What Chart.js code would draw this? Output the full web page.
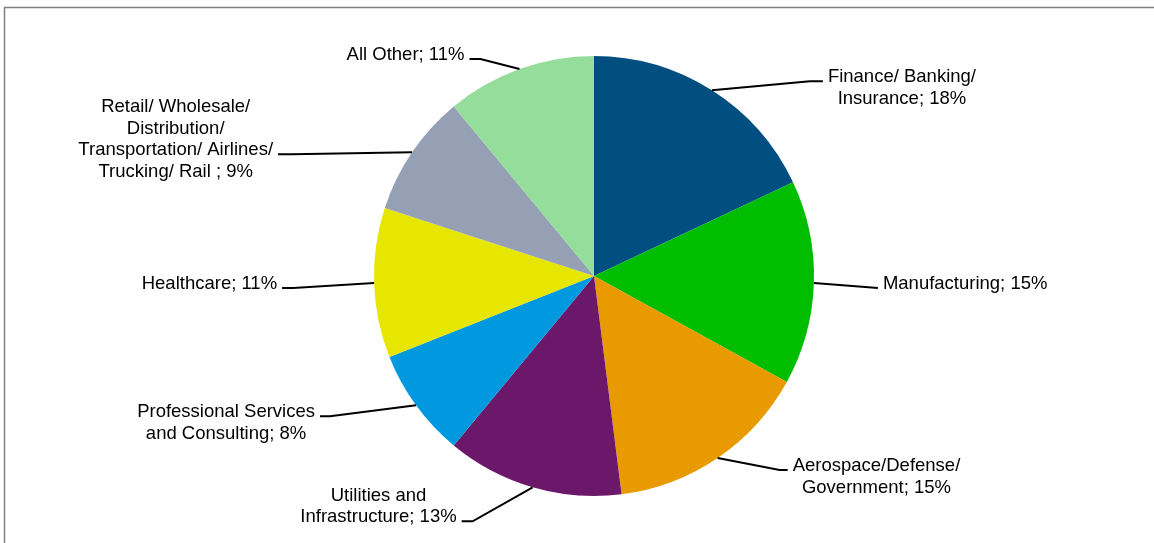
<!DOCTYPE html>
<html>
<head>
<meta charset="utf-8">
<title>Industry breakdown</title>
<script src="https://cdn.jsdelivr.net/npm/chart.js@4.4.1/dist/chart.umd.min.js"></script>
<style>
  html, body { margin: 0; padding: 0; background: #fff; }
  #wrap { width: 1154px; height: 543px; position: relative; }
</style>
</head>
<body>
<div id="wrap"><canvas id="pieChart" width="1154" height="543"></canvas></div>
<script>
// industry names, one entry per line of the label
const industries = [
  ['Finance/ Banking/', 'Insurance'],
  ['Manufacturing'],
  ['Aerospace/Defense/', 'Government'],
  ['Utilities and', 'Infrastructure'],
  ['Professional Services', 'and Consulting'],
  ['Healthcare'],
  ['Retail/ Wholesale/', 'Distribution/', 'Transportation/ Airlines/', 'Trucking/ Rail '],
  ['All Other']
];
const shares = [18, 15, 15, 13, 8, 11, 9, 11];
const sliceColors = ['#014f80', '#00bd00', '#e89a00', '#6b186b', '#0099e0', '#e6e600', '#96a0b4', '#95dd9a'];

// leader line: elbow offset from the arc edge, horizontal tail, and which text line it points at
const leaders = [
  { dx: 98, dy: -9, tail: 13, attach: 0 },
  { dx: 64, dy: 5, tail: 0, attach: 0 },
  { dx: 62, dy: 12, tail: 8, attach: 0 },
  { dx: -60, dy: 34, tail: -11, attach: 1 },
  { dx: -86, dy: 11, tail: -10, attach: 0 },
  { dx: -81, dy: 5, tail: -11, attach: 0 },
  { dx: -120, dy: 2, tail: -14, attach: 2 },
  { dx: -39, dy: -10, tail: -11, attach: 0 }
];

const frame = {
  id: 'frame',
  beforeDraw(chart) {
    const ctx = chart.ctx;
    ctx.save();
    ctx.fillStyle = '#fff';
    ctx.fillRect(0, 0, chart.width, chart.height);
    ctx.strokeStyle = '#808080';
    ctx.lineWidth = 1.5;
    ctx.strokeRect(4.5, 7.5, chart.width + 20, chart.height + 20);
    ctx.restore();
  }
};

const sliceLabels = {
  id: 'sliceLabels',
  afterDatasetsDraw(chart) {
    const ctx = chart.ctx;
    const meta = chart.getDatasetMeta(0);
    ctx.save();
    ctx.font = '18.5px "Liberation Sans", Arial, sans-serif';
    ctx.fillStyle = '#000';
    ctx.strokeStyle = '#000';
    ctx.lineWidth = 2;
    ctx.textAlign = 'center';
    ctx.textBaseline = 'middle';
    meta.data.forEach((arc, i) => {
      const p = arc.getProps(['x', 'y', 'startAngle', 'endAngle', 'outerRadius'], true);
      const mid = (p.startAngle + p.endAngle) / 2;
      const px = p.x + p.outerRadius * Math.cos(mid);
      const py = p.y + p.outerRadius * Math.sin(mid);
      const L = leaders[i];
      const ex = px + L.dx, ey = py + L.dy;
      const tx = ex + L.tail;
      ctx.beginPath();
      ctx.moveTo(px, py);
      ctx.lineTo(ex, ey);
      ctx.lineTo(tx, ey);
      ctx.stroke();

      const lines = industries[i].slice();
      lines[lines.length - 1] += '; ' + shares[i] + '%';
      const w = Math.max(...lines.map(s => ctx.measureText(s).width));
      const right = (L.tail !== 0 ? L.tail : L.dx) > 0;
      const cx = right ? tx + 5 + w / 2 : tx - 5 - w / 2;
      lines.forEach((s, k) => {
        ctx.fillText(s, cx, ey - 4 + (k - L.attach) * 21.5);
      });
    });
    ctx.restore();
  }
};

new Chart(document.getElementById('pieChart'), {
  type: 'pie',
  data: {
    labels: industries,
    datasets: [{
      data: shares,
      backgroundColor: sliceColors,
      borderWidth: 0
    }]
  },
  options: {
    responsive: false,
    animation: false,
    rotation: 0,
    layout: { padding: { left: 374, right: 340, top: 56, bottom: 47 } },
    plugins: {
      legend: { display: false },
      tooltip: { enabled: false }
    }
  },
  plugins: [frame, sliceLabels]
});
</script>
</body>
</html>
